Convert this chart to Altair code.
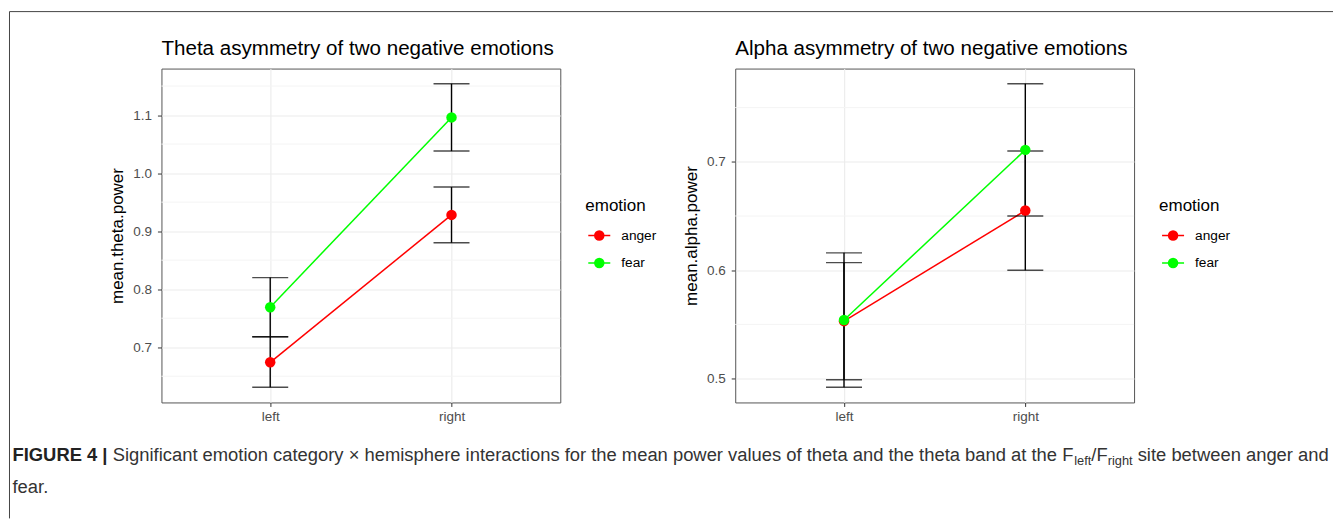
import altair as alt
import pandas as pd

# ---------------- data ----------------
hemispheres = ["left", "right"]
emotions = ["anger", "fear"]
emotion_colors = ["#FF0000", "#00FF00"]

theta_anger_mean = [0.674, 0.928]
theta_anger_low = [0.631, 0.880]
theta_anger_high = [0.718, 0.976]
theta_fear_mean = [0.769, 1.096]
theta_fear_low = [0.718, 1.038]
theta_fear_high = [0.820, 1.154]

alpha_anger_mean = [0.553, 0.655]
alpha_anger_low = [0.499, 0.600]
alpha_anger_high = [0.607, 0.710]
alpha_fear_mean = [0.554, 0.711]
alpha_fear_low = [0.492, 0.650]
alpha_fear_high = [0.616, 0.772]

theta_ticks = [0.7, 0.8, 0.9, 1.0, 1.1]
theta_minor = [0.65, 0.75, 0.85, 0.95, 1.05, 1.15]
alpha_ticks = [0.5, 0.6, 0.7]
alpha_minor = [0.55, 0.65, 0.75]

theta_title = "Theta asymmetry of two negative emotions"
alpha_title = "Alpha asymmetry of two negative emotions"
theta_ytitle = "mean.theta.power"
alpha_ytitle = "mean.alpha.power"
legend_title = "emotion"

caption_bold = "FIGURE 4 |"
caption_main = "Significant emotion category \u00d7 hemisphere interactions for the mean power values of theta and the theta band at the F"
caption_sub1 = "left"
caption_mid = "/F"
caption_sub2 = "right"
caption_end = "site between anger and"
caption_line2 = "fear."

FONT = "Liberation Sans"


def make_df(a_mean, a_low, a_high, f_mean, f_low, f_high):
    rows = []
    for i, h in enumerate(hemispheres):
        rows.append({"hemisphere": h, "emotion": "anger", "mean": a_mean[i], "low": a_low[i], "high": a_high[i]})
    for i, h in enumerate(hemispheres):
        rows.append({"hemisphere": h, "emotion": "fear", "mean": f_mean[i], "low": f_low[i], "high": f_high[i]})
    return pd.DataFrame(rows)


theta_df = make_df(theta_anger_mean, theta_anger_low, theta_anger_high,
                   theta_fear_mean, theta_fear_low, theta_fear_high)
alpha_df = make_df(alpha_anger_mean, alpha_anger_low, alpha_anger_high,
                   alpha_fear_mean, alpha_fear_low, alpha_fear_high)
legend_df = pd.DataFrame({"emotion": emotions})

# ---------------- layout ----------------
PLOT_W = 399
PLOT_H = 334
LEFT_X = 161          # page x of left plot area
TOP_Y = 68            # page y of plot areas
SPACING = 175
ORIGIN_X = LEFT_X + PLOT_W + SPACING + PLOT_W + SPACING   # page x of helper cell
ORIGIN_Y = TOP_Y

# legend layout (pixels, relative to each panel's plot area)
LEG_X = PLOT_W + 28
LEG_TITLE_Y = 137
LEG_ROW0_Y = 167
LEG_ROW_STEP = 27.5


def padded_domain(df):
    lo = min(df["low"].min(), df["mean"].min())
    hi = max(df["high"].max(), df["mean"].max())
    r = hi - lo
    return [lo - 0.05 * r, hi + 0.05 * r]


def panel(df, title, ytitle, ticks, minor, width):
    yscale = alt.Scale(domain=padded_domain(df), nice=False, zero=False)
    yaxis = alt.Axis(title=ytitle, values=ticks, format=".1f", grid=True, labelPadding=6)
    x = alt.X("hemisphere:N",
              scale=alt.Scale(type="point", domain=hemispheres, padding=0.6),
              axis=alt.Axis(title=None, labelAngle=0, grid=True))
    cscale = alt.Scale(domain=emotions, range=emotion_colors)

    def Y(field):
        return alt.Y(field, scale=yscale, axis=yaxis, title=ytitle)

    def C():
        return alt.Color("emotion:N", scale=cscale, legend=None)

    minor_layer = alt.Chart(pd.DataFrame({"v": minor})).mark_rule(
        color="#F4F4F4", strokeWidth=1
    ).encode(y=Y("v:Q"))
    line_layer = alt.Chart(df).mark_line(strokeWidth=1.5).encode(
        x=x, y=Y("mean:Q"), color=C(),
    )
    bar_layer = alt.Chart(df).mark_rule(color="black", strokeWidth=1.4).encode(
        x=x, y=Y("low:Q"), y2="high:Q",
    )
    cap_lo = alt.Chart(df).mark_tick(color="black", size=36, thickness=1.4).encode(
        x=x, y=Y("low:Q")
    )
    cap_hi = alt.Chart(df).mark_tick(color="black", size=36, thickness=1.4).encode(
        x=x, y=Y("high:Q")
    )
    point_layer = alt.Chart(df).mark_point(filled=True, size=110, opacity=1).encode(
        x=x, y=Y("mean:Q"), color=C(),
    )

    # legend: title + one row per emotion, coloured through the same scale
    leg_layers = [
        alt.Chart(legend_df.head(1)).mark_text(
            align="left", baseline="middle", fontSize=17, color="black", font=FONT
        ).encode(x=alt.value(LEG_X - 3), y=alt.value(LEG_TITLE_Y), text=alt.value(legend_title))
    ]
    for i, emo in enumerate(emotions):
        ry = LEG_ROW0_Y + LEG_ROW_STEP * i
        base = alt.Chart(legend_df).transform_filter(alt.datum.emotion == emo)
        leg_layers.append(base.mark_rule(strokeWidth=1.5).encode(
            x=alt.value(LEG_X), x2=alt.value(LEG_X + 22), y=alt.value(ry), color=C()))
        leg_layers.append(base.mark_point(filled=True, size=110, opacity=1).encode(
            x=alt.value(LEG_X + 11), y=alt.value(ry), color=C()))
        leg_layers.append(base.mark_text(
            align="left", baseline="middle", fontSize=13.7, color="black", font=FONT
        ).encode(x=alt.value(LEG_X + 33), y=alt.value(ry), text="emotion:N"))

    return alt.layer(minor_layer, line_layer, bar_layer, cap_lo, cap_hi, point_layer,
                     *leg_layers).properties(
        width=width, height=PLOT_H,
        title=alt.TitleParams(title, anchor="start", frame="group", fontSize=20.6,
                              fontWeight="normal", color="black", font=FONT,
                              baseline="alphabetic", offset=-7),
    )


left = panel(theta_df, theta_title, theta_ytitle, theta_ticks, theta_minor, PLOT_W)
right = panel(alpha_df, alpha_title, alpha_ytitle, alpha_ticks, alpha_minor, PLOT_W)

# ------------- frame + caption (drawn from a helper cell) -------------
ARIAL = {' ': 278, 'a': 556, 'b': 556, 'c': 500, 'd': 556, 'e': 556, 'f': 278, 'g': 556,
         'h': 556, 'i': 222, 'j': 222, 'k': 500, 'l': 222, 'm': 833, 'n': 556, 'o': 556,
         'p': 556, 'q': 556, 'r': 333, 's': 500, 't': 278, 'u': 556, 'v': 500, 'w': 722,
         'x': 500, 'y': 500, 'z': 500, 'S': 667, 'F': 611, '\u00d7': 584, '/': 278, '.': 278}
ARIAL_B = {'F': 611, 'I': 278, 'G': 778, 'U': 722, 'R': 722, 'E': 667, ' ': 278, '4': 556, '|': 280}


def tw(s, size, table):
    return sum(table.get(c, 556) for c in s) * size / 1000.0


CAP = 18.4
SUB = 12.8
SPACE = tw(" ", CAP, ARIAL)
line1_y = 461
line2_y = 493
x0 = 12
xs = [x0]
xs.append(xs[-1] + tw(caption_bold, CAP, ARIAL_B) + SPACE)
xs.append(xs[-1] + tw(caption_main, CAP, ARIAL))
xs.append(xs[-1] + tw(caption_sub1, SUB, ARIAL))
xs.append(xs[-1] + tw(caption_mid, CAP, ARIAL))
xs.append(xs[-1] + tw(caption_sub2, SUB, ARIAL) + SPACE)

reg_df = pd.DataFrame({
    "text": [caption_main, caption_sub1, caption_mid, caption_sub2, caption_end, caption_line2],
    "x": [xs[1] - ORIGIN_X, xs[2] - ORIGIN_X, xs[3] - ORIGIN_X, xs[4] - ORIGIN_X, xs[5] - ORIGIN_X, x0 - ORIGIN_X],
    "y": [line1_y - ORIGIN_Y, line1_y + 4 - ORIGIN_Y, line1_y - ORIGIN_Y, line1_y + 4 - ORIGIN_Y,
          line1_y - ORIGIN_Y, line2_y - ORIGIN_Y],
    "size": [CAP, SUB, CAP, SUB, CAP, CAP],
})
bold_df = pd.DataFrame({"text": [caption_bold], "x": [x0 - ORIGIN_X], "y": [line1_y - ORIGIN_Y], "size": [CAP]})

frame_df = pd.DataFrame({
    "x": [9 - ORIGIN_X, 9 - ORIGIN_X],
    "x2": [1333 - ORIGIN_X, 9 - ORIGIN_X],
    "y": [11 - ORIGIN_Y, 11 - ORIGIN_Y],
    "y2": [11 - ORIGIN_Y, 518 - ORIGIN_Y],
})

frame_layer = alt.Chart(frame_df).mark_rule(color="#444444", strokeWidth=1).encode(
    x=alt.X("x:Q", scale=None, axis=None), x2="x2:Q",
    y=alt.Y("y:Q", scale=None, axis=None), y2="y2:Q",
)
reg_layer = alt.Chart(reg_df).mark_text(align="left", baseline="alphabetic", color="#333333",
                                        font=FONT).encode(
    x=alt.X("x:Q", scale=None, axis=None),
    y=alt.Y("y:Q", scale=None, axis=None),
    size=alt.Size("size:Q", scale=None, legend=None),
    text="text:N",
)
bold_layer = alt.Chart(bold_df).mark_text(align="left", baseline="alphabetic", color="#222222",
                                          font=FONT, fontWeight="bold").encode(
    x=alt.X("x:Q", scale=None, axis=None),
    y=alt.Y("y:Q", scale=None, axis=None),
    size=alt.Size("size:Q", scale=None, legend=None),
    text="text:N",
)
helper = alt.layer(frame_layer, reg_layer, bold_layer).properties(
    width=1, height=PLOT_H, view=alt.ViewBackground(stroke="transparent")
)

chart = alt.hconcat(left, right, helper, spacing=SPACING, bounds="flush").resolve_scale(
    color="independent"
).properties(
    padding={"left": 0.5, "top": 2.5, "right": 0, "bottom": 0}
).configure(font=FONT).configure_view(
    stroke="#555555", strokeWidth=1
).configure_axis(
    labelFont=FONT, titleFont=FONT,
    labelFontSize=13.5, labelColor="#4D4D4D",
    tickColor="#333333", tickSize=4, tickWidth=1,
    domain=False, gridColor="#EBEBEB", gridWidth=1.1,
    labelPadding=3, titleFontSize=17, titleFontWeight="normal",
    titleColor="black", titlePadding=6,
)

chart.save("out.html", embed_options={"renderer": "svg", "actions": False})
